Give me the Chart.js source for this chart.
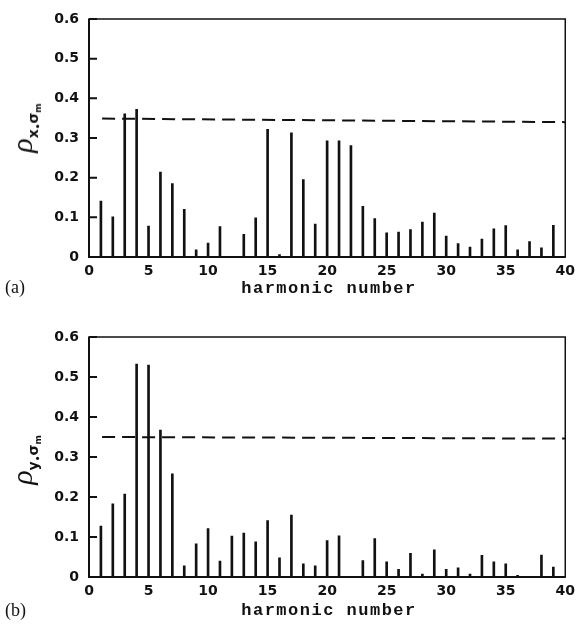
<!DOCTYPE html>
<html>
<head>
<meta charset="utf-8">
<script src="https://cdn.jsdelivr.net/npm/chart.js@4.4.0/dist/chart.umd.min.js"></script>
<style>
body { margin: 0; background: #fff; width: 581px; height: 625px; position: relative; overflow: hidden; }
.box { position: absolute; left: 0; width: 581px; }
.tag { position: absolute; left: 5px; font-family: "Liberation Serif", serif; font-size: 18px; line-height: 1; color: #111; }
.xt { position: absolute; left: 329px; transform: translateX(-50%); white-space: nowrap; font-family: "Liberation Mono", monospace; font-weight: bold; font-size: 17px; letter-spacing: 1.5px; line-height: 1; color: #111; }
.yt { position: absolute; transform: translate(-50%, -50%) rotate(-90deg); white-space: nowrap; font-family: "Liberation Serif", serif; color: #111; line-height: 1; }
.yt i { font-size: 30px; }
.yt .s1 { font-family: "DejaVu Sans", sans-serif; font-weight: bold; font-size: 14px; position: relative; top: 6px; }
.yt .s2 { font-size: 9px; position: relative; top: 3px; }
</style>
</head>
<body>
<div class="box" style="top:0;height:300px"><canvas id="chartA"></canvas></div>
<div class="box" style="top:318px;height:307px"><canvas id="chartB"></canvas></div>

<div class="yt" style="left:22px;top:128px"><i>ρ</i><span class="s1">x<span class="s2">•</span>σ<span class="s2">m</span></span></div>
<div class="yt" style="left:22px;top:460px"><i>ρ</i><span class="s1">y<span class="s2">•</span>σ<span class="s2">m</span></span></div>
<div class="tag" style="top:278px">(a)</div>
<div class="tag" style="top:601px">(b)</div>
<div class="xt" style="top:280px">harmonic number</div>
<div class="xt" style="top:602px">harmonic number</div>

<script>
// harmonic numbers 1..39
var harmonics = [1,2,3,4,5,6,7,8,9,10,11,12,13,14,15,16,17,18,19,20,21,22,23,24,25,26,27,28,29,30,31,32,33,34,35,36,37,38,39];

// (a) rho x-sigma_m
var rhoX = [0.141,0.101,0.361,0.372,0.078,0.214,0.185,0.120,0.018,0.035,0.077,0,0.057,0.099,0.322,0.006,0.313,0.195,0.083,0.293,
            0.293,0.281,0.128,0.097,0.061,0.063,0.069,0.088,0.111,0.053,0.034,0.025,0.045,0.071,0.079,0.018,0.039,0.023,0.080];
// (b) rho y-sigma_m
var rhoY = [0.127,0.183,0.207,0.532,0.530,0.367,0.258,0.028,0.083,0.121,0.040,0.102,0.110,0.088,0.141,0.048,0.155,0.033,0.028,0.091,
            0.103,0,0.041,0.096,0.038,0.019,0.059,0.007,0.068,0.019,0.023,0.007,0.054,0.038,0.033,0.004,0,0.055,0.025];

// dashed significance level (ends of the line)
var limitX = [1.1, 40];
var limitA = [0.349, 0.340];
var limitB = [0.350, 0.346];

var xTicks = [0,5,10,15,20,25,30,35,40];
var yTicks = [0,0.1,0.2,0.3,0.4,0.5,0.6];

// frame + inward y ticks
var frame = {
  id: 'frame',
  afterDatasetsDraw: function(chart) {
    var ctx = chart.ctx, a = chart.chartArea, y = chart.scales.y;
    ctx.save();
    ctx.strokeStyle = '#111';
    ctx.lineWidth = 1.5;
    ctx.strokeRect(a.left, a.top, a.right - a.left, a.bottom - a.top);
    ctx.lineWidth = 2;
    ctx.beginPath();
    ctx.moveTo(a.left, a.top);
    ctx.lineTo(a.left, a.bottom);
    ctx.lineTo(a.right, a.bottom);
    y.ticks.forEach(function(t) {
      var py = y.getPixelForValue(t.value);
      ctx.moveTo(a.left, py);
      ctx.lineTo(a.left + 8, py);
    });
    ctx.stroke();
    ctx.restore();
  }
};

function makeChart(id, values, limit, areaBottom, boxHeight) {
  var tickFont = { family: 'DejaVu Sans', weight: 'bold', size: 14 };
  return new Chart(document.getElementById(id), {
    data: {
      datasets: [
        {
          type: 'bar',
          data: harmonics.map(function(h, i) { return { x: h, y: values[i] }; }),
          backgroundColor: '#111',
          barThickness: 2,
          borderWidth: 0
        },
        {
          type: 'line',
          data: limitX.map(function(x, i) { return { x: x, y: limit[i] }; }),
          borderColor: '#111',
          borderWidth: 2,
          borderDash: [13, 7],
          pointRadius: 0,
          fill: false
        }
      ]
    },
    options: {
      responsive: true,
      maintainAspectRatio: false,
      animation: false,
      layout: { padding: { left: 0, right: 10, top: 19, bottom: 0 } },
      plugins: { legend: { display: false }, tooltip: { enabled: false } },
      scales: {
        x: {
          type: 'linear',
          min: 0, max: 40,
          offset: false,
          grid: { display: false, drawTicks: false, offset: false },
          border: { display: false },
          afterBuildTicks: function(s) { s.ticks = xTicks.map(function(v) { return { value: v }; }); },
          afterFit: function(s) { s.height = boxHeight - areaBottom; },
          ticks: { font: tickFont, color: '#111', padding: 6, maxRotation: 0,
                   callback: function(v) { return String(v); } }
        },
        y: {
          min: 0, max: 0.6,
          grid: { display: false, drawTicks: false },
          border: { display: false },
          afterBuildTicks: function(s) { s.ticks = yTicks.map(function(v) { return { value: v }; }); },
          afterFit: function(s) { s.width = 89; },
          ticks: { font: tickFont, color: '#111', padding: 10,
                   callback: function(v) { return v === 0 ? '0' : v.toFixed(1); } }
        }
      }
    },
    plugins: [frame]
  });
}

makeChart('chartA', rhoX, limitA, 257, 300);
makeChart('chartB', rhoY, limitB, 259, 307);
</script>
</body>
</html>
